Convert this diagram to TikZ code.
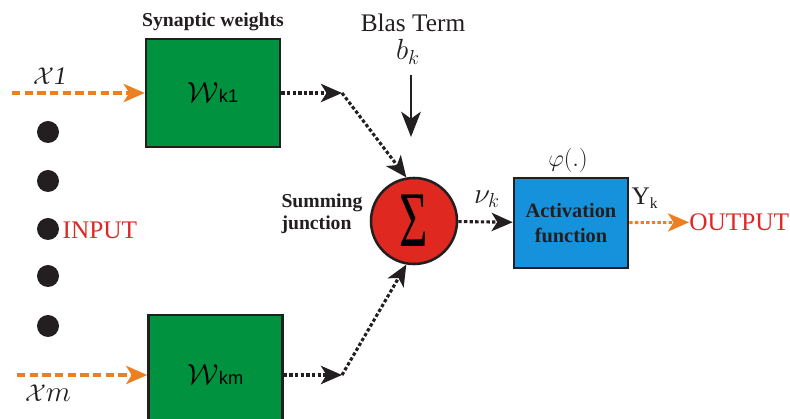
\documentclass[tikz,border=0pt]{standalone}
\usepackage{fontspec}
\setmainfont{Liberation Serif}
\setsansfont{Liberation Sans}
\usetikzlibrary{arrows.meta,positioning,calc}
\definecolor{nGreen}{RGB}{0,146,63}
\definecolor{nBlue}{RGB}{22,146,220}
\definecolor{nRed}{RGB}{222,40,32}
\definecolor{nOrange}{RGB}{236,128,32}
\definecolor{nText}{RGB}{222,40,40}
\definecolor{nInk}{RGB}{35,31,32}

\begin{document}
\begin{tikzpicture}[
				x=0.025cm,y=-0.025cm,
				>={Stealth[length=15pt,width=13pt,inset=4pt]},
				wbox/.style={
					draw=nInk,line width=1.8pt,fill=nGreen,
					minimum width=3.35cm,minimum height=2.7cm,inner sep=0pt
				},
				lbl/.style={font=\fontsize{18}{20}\selectfont,text=nInk,inner sep=1pt},
				bold/.style={font=\fontsize{14}{16}\selectfont\bfseries,text=nInk,inner sep=1pt,align=left},
				inarrow/.style={->,nOrange,line width=2.2pt,dash pattern=on 6pt off 3pt},
				outarrow/.style={->,nOrange,line width=2pt,dash pattern=on 2.4pt off 1.6pt},
				link/.style={->,nInk,line width=2.2pt,dash pattern=on 2.4pt off 1.6pt},
				dot/.style={circle,fill=nInk,minimum size=0.55cm,inner sep=0pt}
				]
				\clip (0,0) rectangle (790,419);

				% weight boxes
				\node[wbox] (w1) at (213,93)  {{\fontsize{21}{24}\selectfont$\mathcal{W}$}{\fontsize{13}{14}\selectfont\sffamily k1}};
				\node[wbox,minimum height=3cm] (wm) at (215.5,375) {{\fontsize{21}{24}\selectfont$\mathcal{W}$}{\fontsize{13}{14}\selectfont\sffamily km}};
				\node[bold] (syn) at (213,22) {Synaptic weights};

				% inputs
				\coordinate (x1s) at (12,93);
				\coordinate (xms) at (17,375);
				\draw[inarrow] (x1s) -- (w1);
				\draw[inarrow] (xms) -- (wm);
				\node[lbl] (x1) at (50,76) {{\fontsize{17}{18}\selectfont$\mathcal{X}$}\textit{1}};
				\node[lbl] (xm) at (48,393) {{\fontsize{17}{18}\selectfont$\mathcal{X}$}{\fontsize{20}{20}\selectfont$m$}};
				\foreach \i/\y in {1/132,2/181,3/229,4/276,5/326}
					\node[dot] (d\i) at (48,\y) {};
				\node[lbl,text=nText,anchor=west] (inp) at (61,230) {INPUT};

				% summing junction
				\node[circle,draw=nInk,line width=1.8pt,fill=nRed,minimum size=2.15cm,inner sep=0pt] (sum) at (414,221)
					{\scalebox{0.62}[1]{\fontsize{56}{60}\selectfont Σ}};
				\node[bold] (sj) at (322,214) {Summing\\junction};

				\coordinate (c1) at (342,93);
				\coordinate (cm) at (342,375);
				\draw[link] (w1) -- (c1);
				\draw[link] (c1) -- (sum.100);
				\draw[link] (wm) -- (cm);
				\draw[link] (cm) -- (sum.-100);

				% bias
				\node[lbl] (bt) at (413,23) {Blas Term};
				\node[lbl] (bk) at (408,52) {\fontsize{22}{24}\selectfont$b_{k}$};
				\coordinate (bs) at (411,75);
				\coordinate (be) at (411,137);
				\draw[->,nInk,line width=1.6pt,>={Stealth[length=18pt,width=14pt,inset=5pt]}] (bs) -- (be);

				% activation
				\node[draw=nInk,line width=1.8pt,fill=nBlue,minimum width=2.85cm,minimum height=2.25cm,
					align=center,font=\fontsize{14.5}{18}\selectfont\bfseries,text=nInk] (act) at (571,223)
					{Activation\\function};
				\draw[link] (sum) -- (act);
				\node[lbl] (nu) at (487,199) {\fontsize{22}{24}\selectfont$\nu_{k}$};
				\node[lbl] (phi) at (568,160) {\fontsize{16}{18}\selectfont$\varphi(.)$};
				\node[lbl] (yk) at (645,198) {Y\textsubscript{\fontsize{11}{12}\selectfont k}};

				% output
				\node[lbl,text=nText,anchor=west,inner sep=0pt] (outp) at (689,222) {OUTPUT};
				\draw[outarrow] (act) -- (outp);
			\end{tikzpicture}
\end{document}
